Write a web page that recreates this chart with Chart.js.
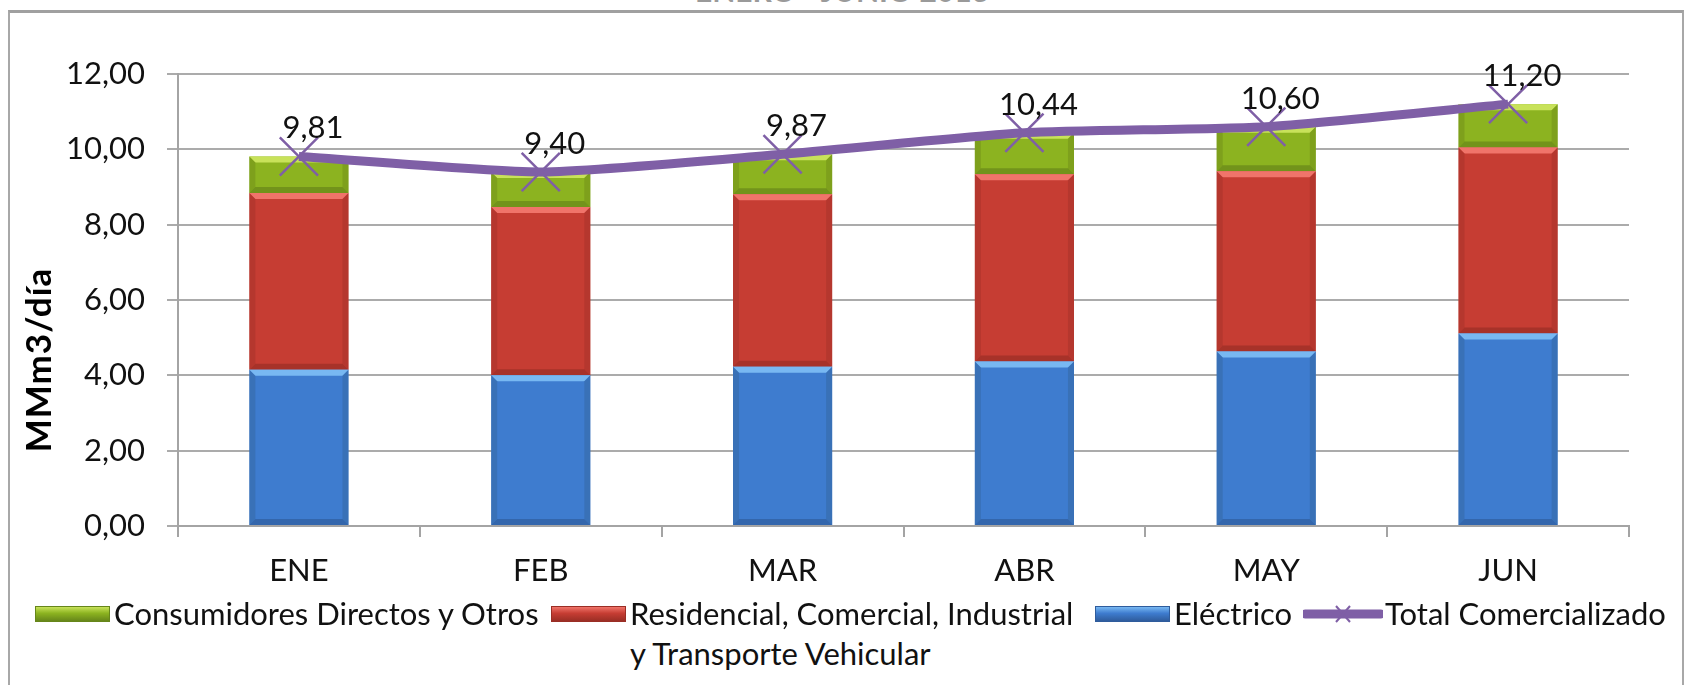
<!DOCTYPE html>
<html>
<head>
<meta charset="utf-8">
<script src="https://cdn.jsdelivr.net/npm/chart.js@4.4.0/dist/chart.umd.min.js"></script>
<style>
  body { margin: 0; background: #fff; font-family: Lato, "Open Sans", sans-serif; }
  #wrap { position: relative; width: 1684px; height: 685px; overflow: hidden; background: #fff; }
  #title { position: absolute; left: 0; width: 1684px; top: -28px; text-align: center;
           font: bold 30px Lato, sans-serif; color: #9a9a9a; }
  #frame { position: absolute; left: 8px; top: 10px; width: 1672px; height: 700px;
           border: 2px solid #a8a8a8; border-top: 3px solid #a0a0a0; }
  #c { position: absolute; left: 0; top: 0; }
  .lg { position: absolute; font-size: 31px; color: #111; white-space: nowrap; line-height: 34px; }
  .sw { position: absolute; width: 75px; height: 16px; box-sizing: border-box; }
</style>
</head>
<body>
<div id="wrap">
  <div id="title">ENERO - JUNIO 2013</div>
  <div id="frame"></div>
  <canvas id="c" width="1684" height="600"></canvas>
  <div id="legend"></div>
</div>
<script>
// data
const months = ['ENE', 'FEB', 'MAR', 'ABR', 'MAY', 'JUN'];
const electrico = [4.15, 4.00, 4.23, 4.37, 4.63, 5.11];
const residencial = [4.69, 4.47, 4.58, 4.97, 4.79, 4.94];
const consumidores = [0.97, 0.93, 1.06, 1.10, 1.18, 1.15];
const total = [9.81, 9.40, 9.87, 10.44, 10.60, 11.20];
const yTicks = [0, 2, 4, 6, 8, 10, 12];

const seriesNames = ['Consumidores Directos y Otros', 'Residencial, Comercial, Industrial\ny Transporte Vehicular', 'Eléctrico', 'Total Comercializado'];

const purple = '#7f5fa6';
const colors = {
  blue:  { fill: '#3e7ccf', light: '#78b8f2', dark: '#2f5c9c', edge: '#33669f' },
  red:   { fill: '#c63d33', light: '#f0746a', dark: '#9a2e25', edge: '#a3322a' },
  green: { fill: '#8cb320', light: '#c8e25a', dark: '#66861a', edge: '#6f8e18' }
};

const fmt = v => v.toFixed(2).replace('.', ',');

// bevel look on the bars
const bevelPlugin = {
  id: 'bevel',
  afterDatasetDraw(chart, args) {
    const ds = chart.data.datasets[args.index];
    if (ds.type !== 'bar') return;
    const c = ds.bevel;
    const ctx = chart.ctx;
    const b = 6;
    args.meta.data.forEach(el => {
      const l = el.x - el.width / 2, r = el.x + el.width / 2;
      const t = Math.min(el.y, el.base), bt = Math.max(el.y, el.base);
      ctx.save();
      ctx.fillStyle = c.light;
      ctx.beginPath();
      ctx.moveTo(l, t); ctx.lineTo(r, t); ctx.lineTo(r - b, t + b); ctx.lineTo(l + b, t + b); ctx.closePath();
      ctx.fill();
      ctx.globalAlpha = 0.7;
      ctx.fillStyle = c.dark;
      ctx.beginPath();
      ctx.moveTo(l, bt); ctx.lineTo(r, bt); ctx.lineTo(r - b, bt - b); ctx.lineTo(l + b, bt - b); ctx.closePath();
      ctx.fill();
      ctx.globalAlpha = 0.5;
      ctx.fillStyle = c.edge;
      ctx.beginPath();
      ctx.moveTo(r, t); ctx.lineTo(r, bt); ctx.lineTo(r - b, bt - b); ctx.lineTo(r - b, t + b); ctx.closePath();
      ctx.fill();
      ctx.beginPath();
      ctx.moveTo(l, t); ctx.lineTo(l, bt); ctx.lineTo(l + b, bt - b); ctx.lineTo(l + b, t + b); ctx.closePath();
      ctx.fill();
      ctx.restore();
    });
  }
};

// value labels on the total line + the y axis title
const labelPlugin = {
  id: 'labels',
  afterDraw(chart) {
    const ctx = chart.ctx;
    const meta = chart.getDatasetMeta(3);
    ctx.save();
    ctx.font = '31px Lato, sans-serif';
    ctx.fillStyle = '#111';
    ctx.textAlign = 'center';
    ctx.textBaseline = 'middle';
    meta.data.forEach((pt, i) => {
      ctx.fillText(fmt(total[i]), pt.x + 14, pt.y - 28);
    });
    ctx.translate(40, 360);
    ctx.rotate(-Math.PI / 2);
    ctx.font = 'bold 35px Lato, sans-serif';
    ctx.letterSpacing = '1px';
    ctx.fillStyle = '#000';
    ctx.fillText('MMm3/día', 0, 0);
    ctx.restore();
  }
};

const chart = new Chart(document.getElementById('c'), {
  data: {
    labels: months,
    datasets: [
      { type: 'bar', label: seriesNames[2], data: electrico, backgroundColor: colors.blue.fill, bevel: colors.blue,
        stack: 'a', order: 1, barPercentage: 1, categoryPercentage: 0.41 },
      { type: 'bar', label: seriesNames[1], data: residencial, backgroundColor: colors.red.fill, bevel: colors.red,
        stack: 'a', order: 1, barPercentage: 1, categoryPercentage: 0.41 },
      { type: 'bar', label: seriesNames[0], data: consumidores, backgroundColor: colors.green.fill, bevel: colors.green,
        stack: 'a', order: 1, barPercentage: 1, categoryPercentage: 0.41 },
      { type: 'line', label: seriesNames[3], data: total, stack: 'line', order: 0,
        borderColor: purple, borderWidth: 9, tension: 0.2, fill: false,
        pointStyle: 'crossRot', pointRadius: 27, pointBorderWidth: 2.5,
        pointBorderColor: purple, pointBackgroundColor: purple }
    ]
  },
  options: {
    responsive: false,
    animation: false,
    layout: { padding: { left: 20, top: 74, right: 55, bottom: 0 } },
    plugins: { legend: { display: false }, tooltip: { enabled: false } },
    scales: {
      x: {
        stacked: true,
        offset: true,
        grid: { offset: true, drawOnChartArea: false, drawTicks: true, tickLength: 11, color: '#a4a4a4', lineWidth: 2 },
        border: { color: '#a4a4a4', width: 2 },
        ticks: { font: { size: 31, family: 'Lato' }, color: '#111', padding: 15 },
        afterFit: s => { s.height = 74; }
      },
      y: {
        stacked: true,
        min: 0,
        max: 12,
        afterBuildTicks: s => { s.ticks = yTicks.map(v => ({ value: v })); },
        grid: { color: '#ababab', lineWidth: 2, tickLength: 11 },
        border: { color: '#a4a4a4', width: 2 },
        ticks: { font: { size: 31, family: 'Lato' }, color: '#111', padding: 22, callback: v => fmt(v) },
        afterFit: s => { s.width = 158; }
      }
    }
  },
  plugins: [bevelPlugin, labelPlugin]
});

// legend (html)
const legend = document.getElementById('legend');
function swatch(left, top, c) {
  const d = document.createElement('div');
  d.className = 'sw';
  d.style.left = left + 'px';
  d.style.top = top + 'px';
  d.style.background = 'linear-gradient(to bottom, ' + c.light + ' 0%, ' + c.fill + ' 45%, ' + c.dark + ' 100%)';
  d.style.border = '1px solid ' + c.dark;
  legend.appendChild(d);
}
function text(left, top, s) {
  const d = document.createElement('div');
  d.className = 'lg';
  d.style.left = left + 'px';
  d.style.top = top + 'px';
  d.textContent = s;
  legend.appendChild(d);
}
swatch(35, 606, colors.green);
text(114, 596, seriesNames[0]);
swatch(551, 606, colors.red);
text(630, 596, seriesNames[1].split('\n')[0]);
text(630, 636, seriesNames[1].split('\n')[1]);
swatch(1095, 606, colors.blue);
text(1174, 596, seriesNames[2]);
const svg = document.createElementNS('http://www.w3.org/2000/svg', 'svg');
svg.setAttribute('width', '80');
svg.setAttribute('height', '30');
svg.style.position = 'absolute';
svg.style.left = '1303px';
svg.style.top = '599px';
svg.innerHTML = '<line x1="2" y1="15" x2="78" y2="15" stroke="' + purple + '" stroke-width="9" stroke-linecap="round"/>' +
  '<line x1="33" y1="7" x2="47" y2="23" stroke="' + purple + '" stroke-width="2"/>' +
  '<line x1="47" y1="7" x2="33" y2="23" stroke="' + purple + '" stroke-width="2"/>';
legend.appendChild(svg);
text(1385, 596, seriesNames[3]);
</script>
</body>
</html>
